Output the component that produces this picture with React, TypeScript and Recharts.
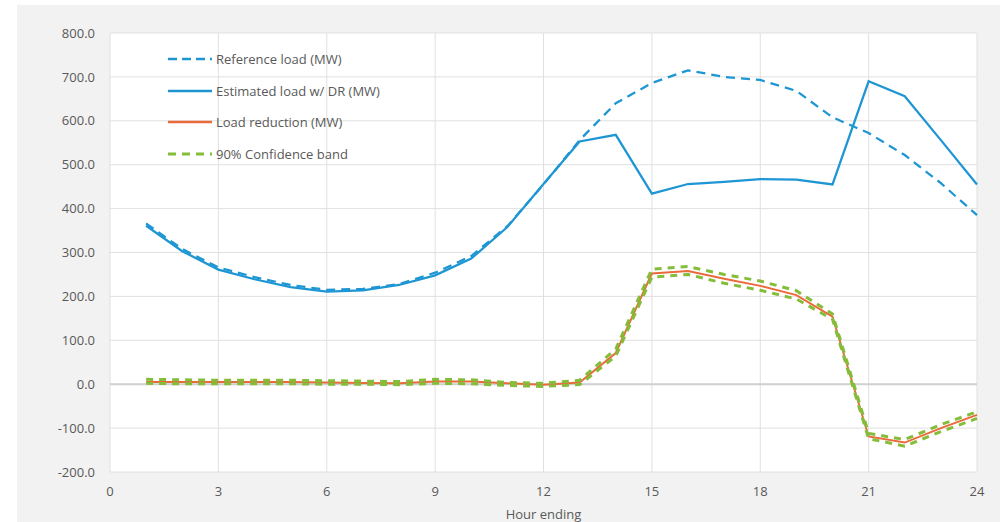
import { LineChart, Line, XAxis, YAxis, CartesianGrid, ReferenceLine, Legend } from "recharts"

const hours = [1, 2, 3, 4, 5, 6, 7, 8, 9, 10, 11, 12, 13, 14, 15, 16, 17, 18, 19, 20, 21, 22, 23, 24]
const referenceLoad = [366, 308, 266, 244, 226, 215, 217, 228, 254, 292, 360, 455, 556, 640, 686, 715, 700, 693, 668, 608, 572, 522, 458, 385]
const estimatedLoad = [361, 303, 261, 239, 221, 211, 214, 226, 248, 286, 358, 456, 553, 568, 434, 456, 461, 467, 466, 455, 690, 656, 556, 455]
const loadReduction = [5, 5, 5, 5, 5, 4, 3, 2, 6, 6, 2, -1, 4, 71, 252, 258, 240, 224, 203, 154, -119, -133, -100, -70]
const bandUpper = [11, 10, 9, 9, 9, 8, 7, 6, 11, 10, 4, 2, 9, 80, 262, 268, 250, 235, 213, 160, -112, -126, -92, -63]
const bandLower = [2, 1, 1, 1, 1, 0, 0, -1, 2, 1, -3, -5, -1, 64, 244, 250, 230, 214, 194, 148, -124, -141, -108, -78]

const xTicks = [0, 3, 6, 9, 12, 15, 18, 21, 24]
const yTicks = [-200, -100, 0, 100, 200, 300, 400, 500, 600, 700, 800]

const BLUE = "#1e96d4"
const ORANGE = "#ea6a3c"
const GREEN = "#84bd3a"
const TEXT = "#595959"
const FONT = "'Open Sans', sans-serif"

const data = hours.map((h, i) => ({
  hour: h,
  reference: referenceLoad[i],
  estimated: estimatedLoad[i],
  reduction: loadReduction[i],
  upper: bandUpper[i],
  lower: bandLower[i],
}))

const legendItems = [
  { name: "Reference load (MW)", color: BLUE, dash: "9 5", width: 2.5 },
  { name: "Estimated load w/ DR (MW)", color: BLUE, dash: undefined, width: 2.5 },
  { name: "Load reduction (MW)", color: ORANGE, dash: undefined, width: 2.5 },
  { name: "90% Confidence band", color: GREEN, dash: "8 6", width: 3 },
]

function ChartLegend() {
  return (
    <div style={{ display: "flex", flexDirection: "column", fontFamily: FONT, fontSize: 13, color: TEXT }}>
      {legendItems.map((item) => (
        <div key={item.name} style={{ display: "flex", alignItems: "center", height: 31.7 }}>
          <svg width={44} height={10}>
            <line x1={0} y1={5} x2={44} y2={5} stroke={item.color} strokeWidth={item.width} strokeDasharray={item.dash} />
          </svg>
          <span style={{ marginLeft: 4, whiteSpace: "nowrap" }}>{item.name}</span>
        </div>
      ))}
    </div>
  )
}

const tickStyle = { fontSize: 13, fill: TEXT, fontFamily: FONT }

export default function App() {
  return (
    <div style={{ position: "absolute", left: 17, top: 5, width: 983, height: 517, background: "#f2f2f2" }}>
      <LineChart width={983} height={517} data={data} margin={{ top: 28, right: 23, left: 0, bottom: 0 }}>
        <CartesianGrid fill="#ffffff" stroke="#e0e0e0" horizontalValues={yTicks} verticalValues={xTicks} />
        <XAxis
          dataKey="hour"
          type="number"
          domain={[0, 24]}
          ticks={xTicks}
          height={50}
          axisLine={false}
          tickLine={false}
          tickSize={0}
          tickMargin={15}
          tick={tickStyle}
          label={{ value: "Hour ending", position: "insideBottom", offset: 3, fontSize: 13, fill: TEXT, fontFamily: FONT }}
        />
        <YAxis
          type="number"
          domain={[-200, 800]}
          ticks={yTicks}
          width={93}
          axisLine={false}
          tickLine={false}
          tickSize={0}
          tickMargin={15}
          tick={tickStyle}
          tickFormatter={(v: number) => v.toFixed(1)}
        />
        <ReferenceLine y={0} stroke="#d0d0d0" strokeWidth={2} />
        <Legend
          layout="vertical"
          align="center"
          verticalAlign="middle"
          wrapperStyle={{ left: 151, top: 38, width: "auto" }}
          content={() => <ChartLegend />}
        />
        <Line dataKey="reference" stroke={BLUE} strokeWidth={2.25} strokeDasharray="9 6" dot={false} isAnimationActive={false} />
        <Line dataKey="estimated" stroke={BLUE} strokeWidth={2.25} dot={false} isAnimationActive={false} />
        <Line dataKey="reduction" stroke={ORANGE} strokeWidth={2} dot={false} isAnimationActive={false} />
        <Line dataKey="upper" stroke={GREEN} strokeWidth={3} strokeDasharray="7 6" dot={false} isAnimationActive={false} />
        <Line dataKey="lower" stroke={GREEN} strokeWidth={3} strokeDasharray="7 6" dot={false} isAnimationActive={false} />
      </LineChart>
    </div>
  )
}
